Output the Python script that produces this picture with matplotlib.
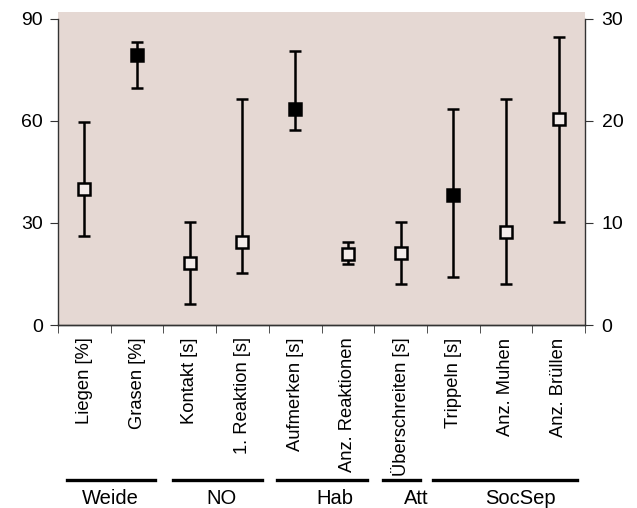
import numpy as np
import matplotlib
matplotlib.use('Agg')
import matplotlib.pyplot as plt

plt.rcParams['font.family'] = ['Liberation Sans', 'DejaVu Sans']

labels = ['Liegen [%]', 'Grasen [%]', 'Kontakt [s]', '1. Reaktion [s]', 'Aufmerken [s]',
          'Anz. Reaktionen', 'Überschreiten [s]', 'Trippeln [s]', 'Anz. Muhen', 'Anz. Brüllen']
# which axis: 'L' = left (0-90), 'R' = right (0-30)
axis_of = ['L', 'L', 'L', 'L', 'L', 'R', 'L', 'L', 'R', 'R']
values = [40, 79.4, 18.3, 24.3, 63.4, 7.0, 21.2, 38.3, 9.1, 20.2]
lower = [26.3, 69.6, 6.1, 15.2, 57.4, 6.0, 12.0, 14.1, 4.0, 10.1]
upper = [59.6, 83.1, 30.2, 66.5, 80.6, 8.1, 30.2, 63.4, 22.1, 28.2]
filled = [False, True, False, False, True, False, False, True, False, False]

groups = ['Weide', 'NO', 'Hab', 'Att', 'SocSep']
# group underline spans and label centres in figure pixels
group_lines = [(67, 155), (173, 262), (277, 367), (383, 420), (433, 577)]
group_label_x = [110, 222, 335, 416, 520]

W, H = 637, 508
bg = '#e5d8d3'

fig = plt.figure(figsize=(W / 100, H / 100), dpi=100)
ax = fig.add_axes([58 / W, 1 - 325 / H, (585 - 58) / W, (325 - 12) / H])
ax2 = ax.twinx()
ax.set_facecolor(bg)
ax2.patch.set_visible(False)

x = np.arange(len(labels))
for i in x:
    a = ax if axis_of[i] == 'L' else ax2
    a.errorbar(i, values[i], yerr=[[values[i] - lower[i]], [upper[i] - values[i]]],
               fmt='s', color='black', ecolor='black', elinewidth=1.8, capsize=4.5,
               capthick=1.8, markersize=8.5, markeredgewidth=1.8,
               markerfacecolor='black' if filled[i] else '#f3ecea',
               markeredgecolor='black', zorder=3)

ax.set_xlim(-0.5, len(labels) - 0.5)
ax.set_ylim(0, 92)
ax2.set_ylim(0, 92 / 3)
ax.set_yticks([0, 30, 60, 90])
ax2.set_yticks([0, 10, 20, 30])
ax.spines['left'].set_bounds(0, 90)
ax2.spines['right'].set_bounds(0, 30)
for a in (ax, ax2):
    a.spines['top'].set_visible(False)
ax.spines['right'].set_visible(False)
ax2.spines['left'].set_visible(False)
for a in (ax, ax2):
    for s in a.spines.values():
        s.set_color('#333333')
        s.set_linewidth(1)

ax.set_xticks(x)
ax.set_xticklabels(labels, rotation=90, va='top', ha='center', fontsize=13.2)
ax.set_xticks(np.arange(-0.5, len(labels)), minor=True)
ax.tick_params(axis='x', which='major', length=0, pad=9)
ax.tick_params(axis='x', which='minor', length=6, direction='out', color='#333333')
ax.tick_params(axis='y', length=6, direction='out', labelsize=14, pad=5, color='#333333')
ax2.tick_params(axis='y', length=6, direction='out', labelsize=14, pad=6, color='#333333')

for name, (x0, x1), lx in zip(groups, group_lines, group_label_x):
    fig.add_artist(plt.Line2D([x0 / W, x1 / W], [1 - 480 / H, 1 - 480 / H],
                              color='black', linewidth=2.4, transform=fig.transFigure))
    fig.text(lx / W, 1 - 499 / H, name, ha='center', va='center', fontsize=14.5)

fig.savefig('out.png', dpi=100, facecolor='white')
